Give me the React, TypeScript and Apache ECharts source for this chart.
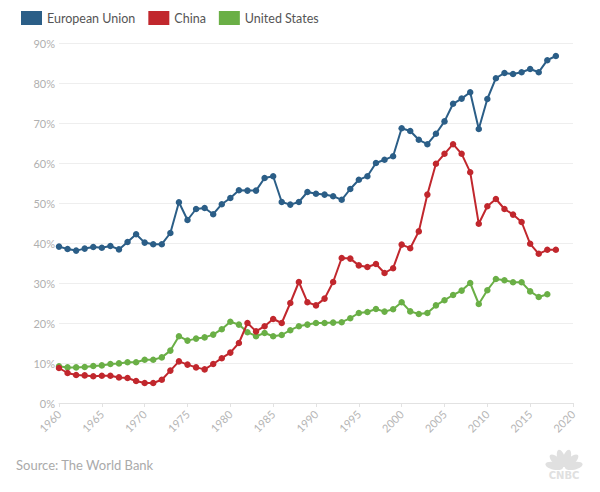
import React, { useEffect, useRef } from "react";
import * as echarts from "echarts";

const years: number[] = [];
for (let y = 1960; y <= 2018; y++) years.push(y);

const euValues = [
  39.1, 38.5, 38.1, 38.6, 39.0, 38.8, 39.25, 38.4, 40.25, 42.2,
  40.1, 39.7, 39.7, 42.5, 50.2, 45.75, 48.5, 48.75, 47.2, 49.7,
  51.25, 53.2, 53.1, 53.1, 56.25, 56.7, 50.25, 49.6, 50.25, 52.75,
  52.3, 52.1, 51.7, 50.8, 53.5, 55.8, 56.7, 60.0, 60.8, 61.7,
  68.7, 68.0, 65.8, 64.7, 67.3, 70.4, 74.8, 76.1, 77.7, 68.5,
  76.0, 81.2, 82.5, 82.25, 82.7, 83.5, 82.7, 85.7, 86.75,
];

const chinaValues = [
  8.75, 7.5, 7.0, 6.9, 6.7, 6.8, 6.8, 6.4, 6.25, 5.5,
  5.0, 5.0, 5.8, 8.1, 10.4, 9.6, 8.9, 8.4, 9.75, 11.2,
  12.6, 15.0, 20.0, 17.9, 19.2, 21.0, 20.0, 25.0, 30.25, 25.2,
  24.4, 26.1, 30.25, 36.25, 36.1, 34.4, 34.0, 34.75, 32.5, 33.7,
  39.6, 38.7, 42.9, 52.1, 59.8, 62.3, 64.7, 62.3, 57.7, 44.8,
  49.2, 51.0, 48.5, 47.1, 45.25, 39.8, 37.3, 38.3, 38.3,
];

const usValues = [
  9.2, 8.9, 8.9, 9.0, 9.25, 9.4, 9.75, 9.9, 10.2, 10.2,
  10.8, 10.8, 11.4, 13.1, 16.7, 15.6, 16.1, 16.4, 17.1, 18.45,
  20.3, 19.6, 17.7, 16.7, 17.5, 16.7, 17.0, 18.2, 19.2, 19.6,
  20.0, 20.0, 20.1, 20.2, 21.2, 22.5, 22.75, 23.5, 22.85, 23.45,
  25.2, 22.9, 22.25, 22.5, 24.4, 25.7, 27.0, 28.1, 30.0, 24.75,
  28.2, 31.0, 30.7, 30.2, 30.2, 27.9, 26.5, 27.2,
];

const seriesNames = ["European Union", "China", "United States"];
const seriesColors = ["#2b5e87", "#c1272d", "#6aaf46"];
const seriesValues = [euValues, chinaValues, usValues];

const yTicks = { min: 0, max: 90, interval: 10 };
const xTicks = { min: 1960, max: 2020, interval: 5 };

const sourceText = "Source: The World Bank";

const FONT = "Lato, 'Open Sans', sans-serif";

export default function App() {
  const ref = useRef<HTMLDivElement>(null);

  useEffect(() => {
    if (!ref.current) return;
    const chart = echarts.init(ref.current, undefined, { renderer: "svg" });

    const feathers = [-78, -47, -16, 16, 47, 78].map((deg, i) => ({
      type: "ellipse",
      x: 564,
      y: 468,
      rotation: (-deg * Math.PI) / 180,
      shape: { cx: 0, cy: -10, rx: 3.8, ry: 9 },
      style: { fill: "#e0e0e0" },
      silent: true,
      z: 10 + i,
    }));

    chart.setOption({
      animation: false,
      textStyle: { fontFamily: FONT },
      legend: {
        left: 16,
        top: 6,
        icon: "rect",
        itemWidth: 21,
        itemHeight: 14,
        itemGap: 13,
        textStyle: { color: "#555", fontSize: 12.5, fontFamily: FONT },
        data: seriesNames,
      },
      grid: { left: 59, right: 27, top: 43, bottom: 89, containLabel: false },
      xAxis: {
        type: "value",
        min: xTicks.min,
        max: xTicks.max,
        interval: xTicks.interval,
        axisLine: { show: true, lineStyle: { color: "#e2e2e2" } },
        axisTick: { show: true, length: 4, lineStyle: { color: "#e2e2e2" } },
        splitLine: { show: false },
        axisLabel: {
          rotate: 45,
          color: "#b5b5b5",
          fontSize: 11,
          margin: 9,
          fontFamily: FONT,
          formatter: (v: number) => String(v),
        },
      },
      yAxis: {
        type: "value",
        min: yTicks.min,
        max: yTicks.max,
        interval: yTicks.interval,
        axisLine: { show: false },
        axisTick: { show: false },
        splitLine: { show: true, lineStyle: { color: "#eeeeee", width: 1 } },
        axisLabel: {
          color: "#b0b0b0",
          fontSize: 11,
          margin: 4,
          fontFamily: FONT,
          formatter: (v: number) => v + "%",
        },
      },
      series: seriesNames.map((name, i) => ({
        name,
        type: "line",
        data: seriesValues[i].map((v, j) => [years[j], v]),
        color: seriesColors[i],
        symbol: "circle",
        symbolSize: 6.5,
        showSymbol: true,
        lineStyle: { width: 2, color: seriesColors[i] },
        itemStyle: { color: seriesColors[i] },
        z: 3 - i,
      })),
      graphic: [
        {
          type: "text",
          left: 16,
          top: 458,
          style: {
            text: sourceText,
            fill: "#aaaaaa",
            fontSize: 13,
            fontFamily: FONT,
          },
        },
        ...feathers,
        {
          type: "text",
          x: 564,
          y: 475,
          style: {
            text: "CNBC",
            fill: "#e0e0e0",
            fontSize: 10,
            fontWeight: "bold",
            fontFamily: "'DejaVu Sans', sans-serif",
            textAlign: "center",
            textVerticalAlign: "middle",
          },
        },
      ],
    });

    return () => chart.dispose();
  }, []);

  return (
    <div
      ref={ref}
      style={{ position: "fixed", left: 0, top: 0, width: 600, height: 492, background: "#fff" }}
    />
  );
}
